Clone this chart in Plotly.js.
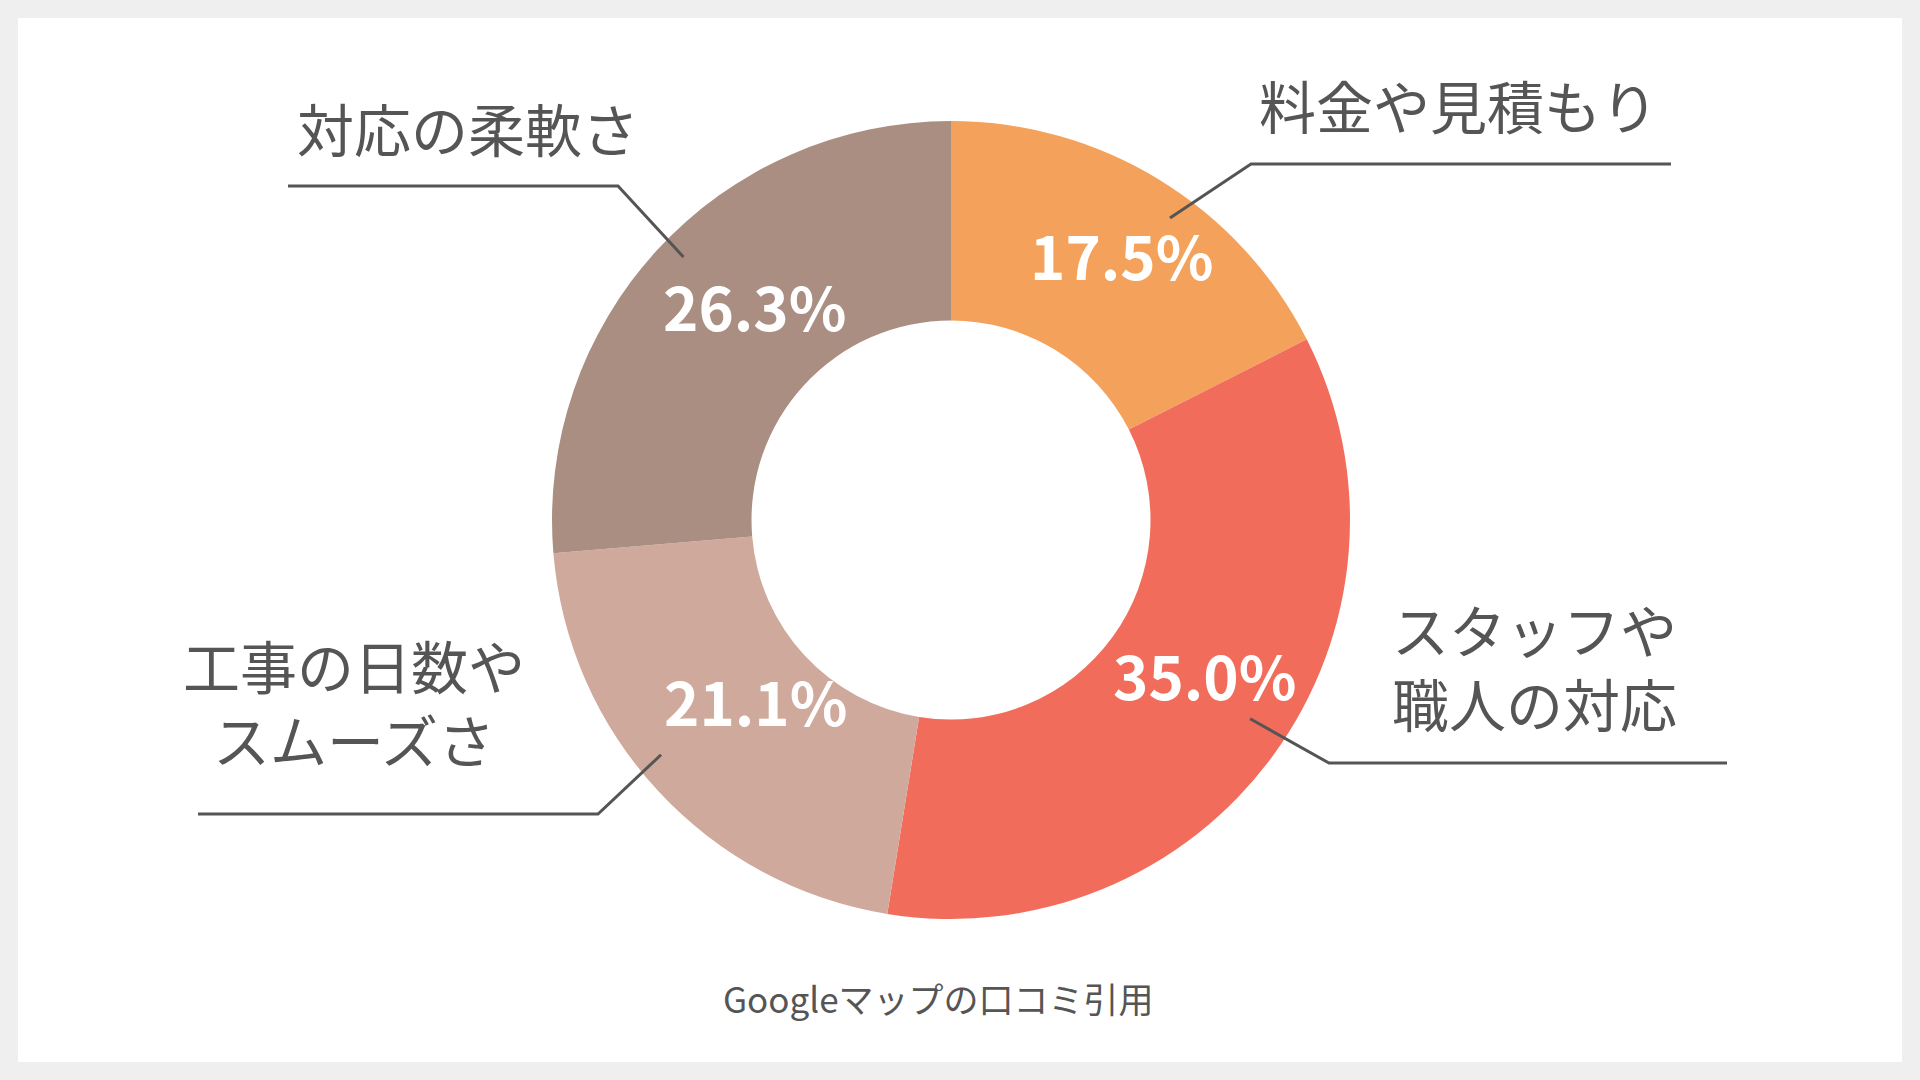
<!DOCTYPE html>
<html lang="ja">
<head>
<meta charset="utf-8">
<script src="https://cdn.plot.ly/plotly-3.0.1.min.js"></script>
<style>
  html, body { margin: 0; padding: 0; background: #efefef; }
  #chart { width: 1920px; height: 1080px; }
</style>
</head>
<body>
<div id="chart"></div>
<script>
  // data
  const categories = ["料金や見積もり", "スタッフや<br>職人の対応", "工事の日数や<br>スムーズさ", "対応の柔軟さ"];
  const shares = [17.5, 35.0, 21.1, 26.3];
  const sliceColors = ["#f4a25b", "#f26c5c", "#cfa99b", "#aa8e82"];
  const sourceNote = "Googleマップの口コミ引用";

  // page geometry, in px
  const W = 1920;
  const H = 1080;
  const card = { x0: 18, y0: 18, x1: 1902, y1: 1062 };
  const center = { x: 951, y: 520 };
  const radius = 399;
  const font = "'Noto Sans CJK JP', 'Noto Sans', sans-serif";
  const inkColor = "#555555";

  // callout: where the leader starts inside the slice (share of its sweep, share of radius),
  // where it bends, where it ends and where its label sits
  const callouts = [
    { at: 0.57, r: 0.935, elbow: [1251, 164], end: 1671, label: [1458, 104] },
    { at: 0.48, r: 0.90, elbow: [1329, 763], end: 1727, label: [1534, 665] },
    { at: 0.55, r: 0.935, elbow: [598, 814], end: 198, label: [354, 701] },
    { at: 0.52, r: 0.94, elbow: [618, 186], end: 288, label: [468, 127] },
  ];

  const px = (x) => x / W;
  const py = (y) => 1 - y / H;

  // angle (radians, clockwise from 12 o'clock) at a given share of each slice's sweep
  function sliceAngles(share) {
    const total = shares.reduce((a, b) => a + b, 0);
    let acc = 0;
    return shares.map((v, i) => {
      const f = Array.isArray(share) ? share[i] : share;
      const a = (acc + v * f) / total * 2 * Math.PI;
      acc += v;
      return a;
    });
  }

  function polar(angle, r) {
    return [center.x + Math.sin(angle) * r, center.y - Math.cos(angle) * r];
  }

  function buildShapes() {
    const shapes = [{
      type: "rect",
      xref: "paper",
      yref: "paper",
      x0: px(card.x0),
      x1: px(card.x1),
      y0: py(card.y1),
      y1: py(card.y0),
      fillcolor: "#ffffff",
      line: { width: 0 },
      layer: "below",
    }];

    sliceAngles(callouts.map((c) => c.at)).forEach((angle, i) => {
      const c = callouts[i];
      const pts = [polar(angle, radius * c.r), c.elbow, [c.end, c.elbow[1]]];
      shapes.push({
        type: "path",
        xref: "paper",
        yref: "paper",
        path: pts.map((p, k) => `${k ? "L" : "M"}${px(p[0])},${py(p[1])}`).join(" "),
        line: { color: inkColor, width: 3 },
        layer: "above",
      });
    });

    return shapes;
  }

  function buildAnnotations() {
    const notes = categories.map((text, i) => ({
      text: text,
      xref: "paper",
      yref: "paper",
      x: px(callouts[i].label[0]),
      y: py(callouts[i].label[1]),
      xanchor: "center",
      yanchor: "middle",
      align: "center",
      showarrow: false,
      font: { family: font, size: 57, color: inkColor },
    }));

    // percentage labels at the middle of each slice, within the ring
    sliceAngles(0.5).forEach((angle, i) => {
      const p = polar(angle, radius * 0.73);
      notes.push({
        text: shares[i].toFixed(1) + "%",
        xref: "paper",
        yref: "paper",
        x: px(p[0]),
        y: py(p[1]),
        xshift: 18,
        yshift: 18,
        xanchor: "center",
        yanchor: "middle",
        showarrow: false,
        font: { family: font, size: 60, color: "#ffffff", weight: 700 },
      });
    });

    notes.push({
      text: sourceNote,
      xref: "paper",
      yref: "paper",
      x: px(938),
      y: py(997),
      xanchor: "center",
      yanchor: "middle",
      showarrow: false,
      font: { family: font, size: 35, color: inkColor },
    });

    return notes;
  }

  const trace = {
    type: "pie",
    labels: categories,
    values: shares,
    sort: false,
    direction: "clockwise",
    rotation: 0,
    hole: 0.5,
    marker: { colors: sliceColors, line: { width: 0 } },
    textinfo: "none",
    hoverinfo: "label+percent",
    domain: {
      x: [px(center.x - radius), px(center.x + radius)],
      y: [py(center.y + radius), py(center.y - radius)],
    },
  };

  const layout = {
    width: W,
    height: H,
    margin: { t: 0, r: 0, b: 0, l: 0 },
    paper_bgcolor: "#efefef",
    showlegend: false,
    shapes: buildShapes(),
    annotations: buildAnnotations(),
  };

  Plotly.newPlot("chart", [trace], layout, { displayModeBar: false, staticPlot: true });
</script>
</body>
</html>
